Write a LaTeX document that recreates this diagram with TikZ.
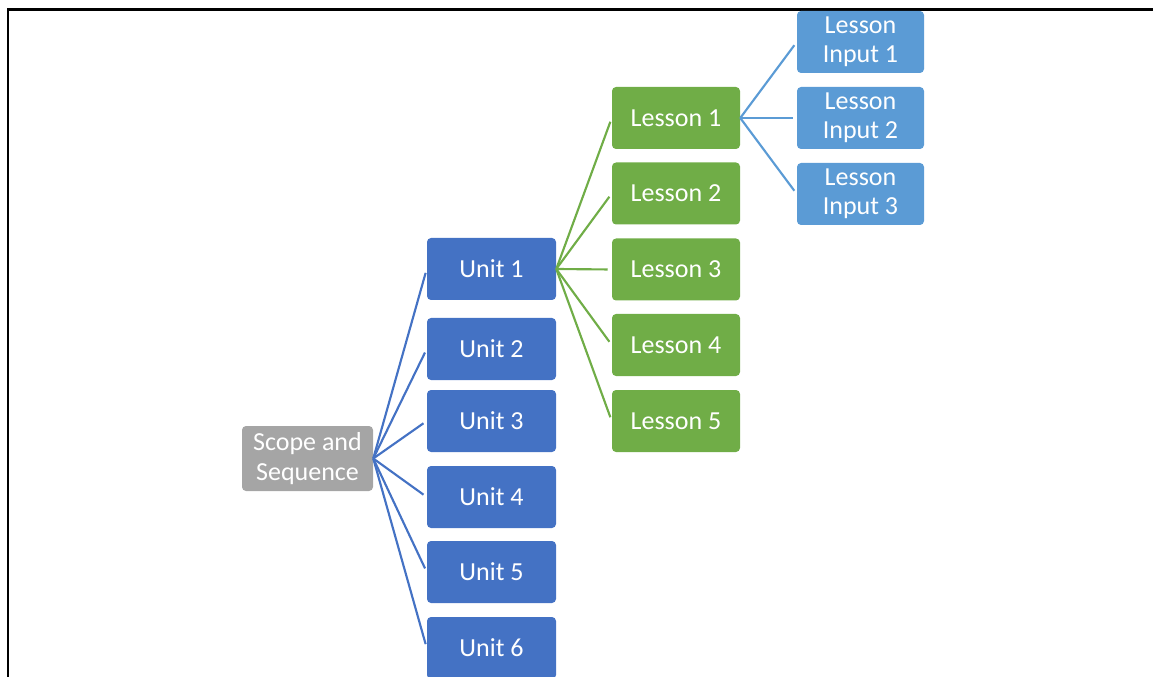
\documentclass[tikz,border=0pt]{standalone}
\usepackage{fontspec}
\setmainfont{Carlito}
\definecolor{cgray}{HTML}{A5A5A5}
\definecolor{cunit}{HTML}{4472C4}
\definecolor{clesson}{HTML}{70AD47}
\definecolor{cinput}{HTML}{5B9BD5}
\begin{document}
\begin{tikzpicture}[x=0.75pt,y=-0.75pt,
  boxbase/.style={rounded corners=3pt, inner sep=0pt, align=center, text=white,
    font=\fontsize{19.5}{22}\selectfont, minimum height=46.5pt},
  scopebox/.style={boxbase, fill=cgray, minimum width=98.25pt, minimum height=48.75pt},
  unitbox/.style={boxbase, fill=cunit, minimum width=96.75pt},
  lessonbox/.style={boxbase, fill=clesson, minimum width=96pt},
  inputbox/.style={boxbase, fill=cinput, minimum width=95.25pt},
  link/.style={line width=1.6pt, shorten >=3pt},
]
\useasboundingbox (0,0) rectangle (1153,677);
\draw[line width=1.6pt] (8,690) -- (8,9.5) -- (1165,9.5);

\node[scopebox] (s) at (307.5,458.5) {Scope and\\Sequence};

\node[unitbox] (u1) at (491.5,269) {Unit 1};
\node[unitbox] (u2) at (491.5,349) {Unit 2};
\node[unitbox] (u3) at (491.5,421) {Unit 3};
\node[unitbox] (u4) at (491.5,497) {Unit 4};
\node[unitbox] (u5) at (491.5,572) {Unit 5};
\node[unitbox] (u6) at (491.5,648) {Unit 6};

\node[lessonbox] (l1) at (676,118) {Lesson 1};
\node[lessonbox] (l2) at (676,193.5) {Lesson 2};
\node[lessonbox] (l3) at (676,269.5) {Lesson 3};
\node[lessonbox] (l4) at (676,345) {Lesson 4};
\node[lessonbox] (l5) at (676,421) {Lesson 5};

\node[inputbox] (i1) at (860.5,42) {Lesson\\Input 1};
\node[inputbox] (i2) at (860.5,118) {Lesson\\Input 2};
\node[inputbox] (i3) at (860.5,194) {Lesson\\Input 3};

\foreach \u in {u1,u2,u3,u4,u5,u6}
  \draw[link, cunit] (s.east) -- (\u.west);
\foreach \l in {l1,l2,l3,l4,l5}
  \draw[link, clesson] (u1.east) -- (\l.west);
\foreach \i in {i1,i2,i3}
  \draw[link, cinput] (l1.east) -- (\i.west);
\end{tikzpicture}
\end{document}
